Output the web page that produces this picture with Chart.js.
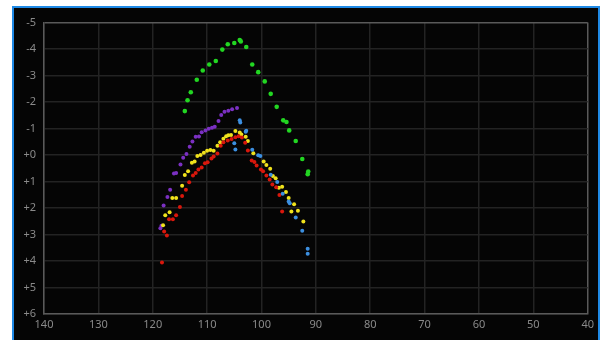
<!DOCTYPE html>
<html>
<head>
<meta charset="utf-8">
<script src="https://cdn.jsdelivr.net/npm/chart.js@4"></script>
<style>
    body { margin: 0; background: #ffffff; width: 600px; height: 340px; overflow: hidden; }
    #frame { position: absolute; left: 12px; top: 6px; width: 584px; height: 340px;
             border: 2px solid #1f8ae6; border-bottom: none; background: #050505; }
    #wrap { position: absolute; left: 0; top: 0; width: 584px; height: 332px; }
</style>
</head>
<body>
<div id="frame"><div id="wrap"><canvas id="chart"></canvas></div></div>
<script>
// x ticks run 140 -> 40, y ticks run -5 (top) -> +6 (bottom)
const xTicks = [140, 130, 120, 110, 100, 90, 80, 70, 60, 50, 40];
const yTicks = [-5, -4, -3, -2, -1, 0, 1, 2, 3, 4, 5, 6];

const greenX = [114.1, 113.6, 113.0, 111.9, 110.8, 109.6, 108.4, 107.2, 106.2, 105.0, 104.0, 103.8, 102.8, 101.7, 100.6, 99.4, 98.3, 97.2, 96.0, 95.4, 94.9, 93.7, 92.5, 91.4, 91.5];
const greenY = [-1.66, -2.07, -2.37, -2.84, -3.19, -3.42, -3.55, -3.98, -4.18, -4.23, -4.34, -4.29, -4.08, -3.42, -3.13, -2.78, -2.31, -1.82, -1.31, -1.25, -0.93, -0.53, 0.15, 0.62, 0.72];

const purpleX = [104.5, 105.4, 106.1, 106.8, 107.4, 107.9, 108.6, 109.1, 109.7, 110.3, 111.0, 111.5, 112.1, 112.7, 113.2, 113.8, 114.4, 114.9, 115.7, 116.1, 116.8, 117.3, 118.0, 118.4, 118.6];
const purpleY = [-1.78, -1.73, -1.67, -1.63, -1.51, -1.29, -1.07, -1.03, -0.99, -0.93, -0.86, -0.70, -0.69, -0.51, -0.31, -0.04, 0.10, 0.36, 0.68, 0.70, 1.31, 1.58, 1.90, 2.67, 2.76];

const yellowX = [118.1, 117.7, 116.9, 116.4, 115.7, 114.6, 114.1, 113.5, 112.8, 112.3, 111.8, 111.2, 110.6, 110.0, 109.4, 108.8, 108.1, 107.6, 107.0, 106.5, 106.1, 105.6, 104.8, 104.0, 103.7, 102.9, 102.5, 101.5, 99.6, 99.1, 98.4, 97.9, 97.4, 96.8, 96.2, 95.5, 95.0, 94.0, 94.5, 93.3, 92.3];
const yellowY = [2.65, 2.27, 2.16, 1.62, 1.62, 1.16, 0.75, 0.61, 0.29, 0.24, 0.04, 0.00, -0.09, -0.16, -0.19, -0.16, -0.35, -0.48, -0.62, -0.71, -0.75, -0.76, -0.91, -0.85, -0.78, -0.69, -0.53, -0.07, 0.24, 0.38, 0.52, 0.79, 0.88, 1.23, 1.20, 1.39, 1.62, 1.86, 2.13, 2.10, 2.51];

const redX = [118.3, 117.4, 117.9, 117.0, 116.3, 115.7, 115.0, 114.6, 113.9, 113.3, 112.6, 112.1, 111.6, 111.0, 110.4, 109.9, 109.2, 108.8, 108.1, 107.5, 107.0, 106.2, 105.5, 104.8, 104.2, 103.6, 103.0, 102.5, 101.8, 101.3, 100.9, 100.1, 99.7, 99.1, 98.5, 98.0, 97.3, 96.7, 96.2];
const redY = [4.06, 3.04, 2.89, 2.42, 2.42, 2.27, 1.96, 1.55, 1.31, 1.03, 0.77, 0.68, 0.55, 0.47, 0.31, 0.27, 0.13, 0.05, -0.06, -0.35, -0.48, -0.55, -0.61, -0.67, -0.71, -0.66, -0.46, -0.17, 0.21, 0.26, 0.39, 0.55, 0.61, 0.77, 0.92, 1.11, 1.22, 1.51, 2.13];

const blueX = [104.0, 103.9, 102.8, 102.9, 105.0, 104.8, 101.7, 100.6, 100.2, 98.3, 97.1, 96.1, 95.0, 94.8, 93.7, 92.5, 91.5, 91.5];
const blueY = [-1.31, -1.23, -0.92, -0.88, -0.45, -0.21, -0.20, 0.01, 0.04, 0.74, 1.02, 1.46, 1.75, 1.82, 2.36, 2.86, 3.54, 3.73];

function pts(xs, ys) {
    return xs.map((x, i) => ({ x: x, y: ys[i] }));
}

function ds(xs, ys, color, r, order) {
    return {
        data: pts(xs, ys),
        backgroundColor: color,
        borderColor: color,
        borderWidth: 0,
        pointRadius: r,
        pointHoverRadius: r,
        order: order
    };
}

const tickFont = { family: 'Noto Sans', size: 11 };

new Chart(document.getElementById('chart'), {
    type: 'scatter',
    data: {
        datasets: [
            ds(greenX, greenY, '#22d622', 2.3, 5),
            ds(purpleX, purpleY, '#7b30c2', 2, 4),
            ds(yellowX, yellowY, '#f0e21c', 2, 3),
            ds(redX, redY, '#d8170c', 2, 2),
            ds(blueX, blueY, '#3c8fe0', 2, 1)
        ]
    },
    options: {
        responsive: true,
        maintainAspectRatio: false,
        animation: false,
        layout: { padding: { left: 0, top: 12, right: 9, bottom: 0 } },
        plugins: { legend: { display: false }, tooltip: { enabled: false } },
        scales: {
            x: {
                type: 'linear',
                reverse: true,
                min: 40,
                max: 140,
                afterBuildTicks: axis => { axis.ticks = xTicks.map(v => ({ value: v })); },
                afterFit: axis => { axis.height = 26; },
                grid: {
                    color: ctx => (ctx.tick && ctx.tick.value === 40) ? '#5a5a5a' : '#232323',
                    lineWidth: 1.5,
                    drawTicks: false
                },
                border: { color: '#5a5a5a', width: 1.5 },
                ticks: { color: '#8a8a8a', font: tickFont, padding: 4, maxRotation: 0 }
            },
            y: {
                type: 'linear',
                reverse: true,
                min: -5,
                max: 6,
                afterBuildTicks: axis => { axis.ticks = yTicks.map(v => ({ value: v })); },
                afterFit: axis => { axis.width = 30; },
                grid: {
                    color: ctx => (ctx.tick && ctx.tick.value === -5) ? '#5a5a5a' : '#232323',
                    lineWidth: 1.5,
                    drawTicks: false
                },
                border: { color: '#5a5a5a', width: 1.5 },
                ticks: {
                    color: '#8a8a8a',
                    font: tickFont,
                    padding: 8,
                    callback: v => (v >= 0 ? '+' + v : String(v))
                }
            }
        }
    }
});
</script>
</body>
</html>
